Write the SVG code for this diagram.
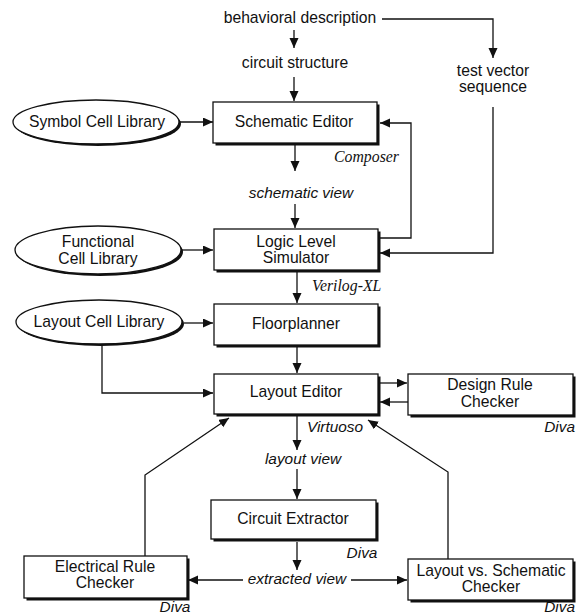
<svg xmlns="http://www.w3.org/2000/svg" width="576" height="615" viewBox="0 0 576 615">
<defs>
<marker id="ah" markerUnits="userSpaceOnUse" markerWidth="11" markerHeight="10" refX="10" refY="4.5" orient="auto">
<path d="M0,0 L10,4.5 L0,9 z" fill="#111"/>
</marker>
<style>
.box{fill:#fff;stroke:#111;stroke-width:1.3}
.sh{fill:#111}
.lbl{font-family:"Liberation Sans",Arial,sans-serif;font-size:15.7px;fill:#111;text-anchor:middle}
.it{font-family:"Liberation Sans",Arial,sans-serif;font-style:italic;font-size:15.4px;fill:#111;text-anchor:middle}
.ser{font-family:"Liberation Serif","Times New Roman",serif;font-style:italic;font-size:15.8px;fill:#111;text-anchor:start}
.c{fill:none;stroke:#111;stroke-width:1.3}
.ca{fill:none;stroke:#111;stroke-width:1.3;marker-end:url(#ah)}
</style>
</defs>
<rect width="576" height="615" fill="#fff"/>

<g id="connectors">
<path class="ca" d="M294,30 V48"/>
<path class="ca" d="M294,77 V101"/>
<path class="ca" d="M382,19 H493 V58"/>
<path class="ca" d="M180,122 H213"/>
<path class="ca" d="M295,145 V171"/>
<path class="ca" d="M295,204 V228"/>
<path class="ca" d="M379,238 H411 V123 H380"/>
<path class="ca" d="M493,107 V253 H380"/>
<path class="ca" d="M182,250 H213"/>
<path class="ca" d="M297,272 V303"/>
<path class="ca" d="M184,323 H213"/>
<path class="ca" d="M102,345 V393 H213"/>
<path class="ca" d="M297,347 V373"/>
<path class="ca" d="M380,383 H407"/>
<path class="ca" d="M408,402 H380"/>
<path class="ca" d="M297,416 V450"/>
<path class="ca" d="M297,469 V499"/>
<path class="ca" d="M145,556 V475 L229,418"/>
<path class="ca" d="M448,559 V472 L368,420"/>
<path class="ca" d="M297,542 V570"/>
<path class="ca" d="M243,580 H188"/>
<path class="ca" d="M351,580 H407"/>
</g>

<g id="behavioral-description"><text class="lbl" x="300" y="23">behavioral description</text></g>
<g id="circuit-structure"><text class="lbl" x="295" y="68">circuit structure</text></g>
<g id="test-vector-sequence"><text class="lbl" x="493" y="76">test vector</text><text class="lbl" x="493" y="92">sequence</text></g>

<g id="symbol-cell-library">
<ellipse class="sh" cx="98" cy="124" rx="83" ry="22"/>
<ellipse class="box" cx="96" cy="122" rx="83" ry="22"/>
<text class="lbl" x="97" y="127">Symbol Cell Library</text>
</g>
<g id="schematic-editor">
<rect class="sh" x="215.5" y="104.5" width="164" height="41"/>
<rect class="box" x="213" y="102" width="164" height="41"/>
<text class="lbl" x="294" y="127">Schematic Editor</text>
<text class="ser" x="334" y="162">Composer</text>
</g>
<g id="schematic-view"><text class="it" x="301" y="198">schematic view</text></g>

<g id="functional-cell-library">
<ellipse class="sh" cx="100" cy="252" rx="83" ry="24"/>
<ellipse class="box" cx="98" cy="250" rx="83" ry="24"/>
<text class="lbl" x="98" y="247">Functional</text>
<text class="lbl" x="98" y="264">Cell Library</text>
</g>
<g id="logic-level-simulator">
<rect class="sh" x="216.5" y="231.5" width="164" height="41"/>
<rect class="box" x="214" y="229" width="164" height="41"/>
<text class="lbl" x="296" y="247">Logic Level</text>
<text class="lbl" x="296" y="263">Simulator</text>
<text class="ser" x="312" y="291">Verilog-XL</text>
</g>

<g id="layout-cell-library">
<ellipse class="sh" cx="101" cy="324" rx="83" ry="22"/>
<ellipse class="box" cx="99" cy="322" rx="83" ry="22"/>
<text class="lbl" x="99" y="327">Layout Cell Library</text>
</g>
<g id="floorplanner">
<rect class="sh" x="216.5" y="306.5" width="164" height="41"/>
<rect class="box" x="214" y="304" width="164" height="41"/>
<text class="lbl" x="296" y="329">Floorplanner</text>
</g>

<g id="layout-editor">
<rect class="sh" x="216.5" y="376.5" width="164" height="40"/>
<rect class="box" x="214" y="374" width="164" height="40"/>
<text class="lbl" x="296" y="397">Layout Editor</text>
<text class="it" x="335" y="432">Virtuoso</text>
</g>
<g id="design-rule-checker">
<rect class="sh" x="410.5" y="376.5" width="165" height="41"/>
<rect class="box" x="408" y="374" width="165" height="41"/>
<text class="lbl" x="490" y="390">Design Rule</text>
<text class="lbl" x="490" y="407">Checker</text>
<text class="it" x="575" y="432" style="text-anchor:end">Diva</text>
</g>

<g id="layout-view"><text class="it" x="303" y="464">layout view</text></g>

<g id="circuit-extractor">
<rect class="sh" x="213.5" y="502.5" width="165" height="39"/>
<rect class="box" x="211" y="500" width="165" height="39"/>
<text class="lbl" x="293" y="524">Circuit Extractor</text>
<text class="it" x="362" y="558">Diva</text>
</g>

<g id="electrical-rule-checker">
<rect class="sh" x="26.5" y="558.5" width="163" height="42"/>
<rect class="box" x="24" y="556" width="163" height="42"/>
<text class="lbl" x="105" y="572">Electrical Rule</text>
<text class="lbl" x="105" y="588">Checker</text>
<text class="it" x="175" y="612">Diva</text>
</g>

<g id="extracted-view"><text class="it" x="297" y="584">extracted view</text></g>

<g id="layout-vs-schematic-checker">
<rect class="sh" x="410.5" y="561.5" width="165" height="41"/>
<rect class="box" x="408" y="559" width="165" height="41"/>
<text class="lbl" x="491" y="576">Layout vs. Schematic</text>
<text class="lbl" x="491" y="592">Checker</text>
<text class="it" x="575" y="612" style="text-anchor:end">Diva</text>
</g>
</svg>
